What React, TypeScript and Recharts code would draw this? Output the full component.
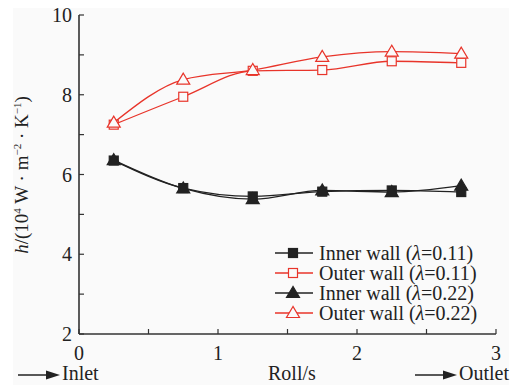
import { LineChart, Line, XAxis, YAxis, Legend } from 'recharts'

// h along the roll, inner vs outer wall for two λ values
const rollTimes = [0.25, 0.75, 1.25, 1.75, 2.25, 2.75]
const innerWall011 = [6.35, 5.66, 5.45, 5.57, 5.6, 5.56]
const outerWall011 = [7.25, 7.95, 8.6, 8.62, 8.84, 8.8]
const innerWall022 = [6.36, 5.65, 5.38, 5.6, 5.56, 5.72]
const outerWall022 = [7.3, 8.38, 8.62, 8.95, 9.08, 9.03]

const xTicks = [0, 0.5, 1, 1.5, 2, 2.5, 3]
const yTicksLeft = [2, 3, 4, 5, 6, 7, 8, 9, 10]
const yTicksRight = [2, 2.5, 3, 3.5, 4, 4.5, 5, 5.5, 6, 6.5, 7, 7.5, 8, 8.5, 9, 9.5, 10]

const RED = "#e8342a"
const BLACK = "#222"
const AXIS = "#333"
const FONT = "'Liberation Serif', 'DejaVu Serif', serif"

type Marker = "square" | "triangle"

const series = [
  { key: "in011", name: "Inner wall", lambda: "0.11", values: innerWall011, color: BLACK, marker: "square" as Marker, filled: true },
  { key: "out011", name: "Outer wall", lambda: "0.11", values: outerWall011, color: RED, marker: "square" as Marker, filled: false },
  { key: "in022", name: "Inner wall", lambda: "0.22", values: innerWall022, color: BLACK, marker: "triangle" as Marker, filled: true },
  { key: "out022", name: "Outer wall", lambda: "0.22", values: outerWall022, color: RED, marker: "triangle" as Marker, filled: false },
]

const data = rollTimes.map((x, i) => {
  const row: Record<string, number> = { x }
  series.forEach(s => { row[s.key] = s.values[i] })
  return row
})

function MarkerShape({ cx, cy, marker, color, filled }: { cx: number; cy: number; marker: Marker; color: string; filled: boolean }) {
  const fill = filled ? color : "#fafafa"
  if (marker === "square") {
    return <rect x={cx - 4.5} y={cy - 4.5} width={9} height={9} fill={fill} stroke={color} strokeWidth={1.2} />
  }
  return (
    <polygon
      points={`${cx},${cy - 6.5} ${cx - 6.5},${cy + 4.5} ${cx + 6.5},${cy + 4.5}`}
      fill={fill}
      stroke={color}
      strokeWidth={1.2}
    />
  )
}

function makeDot(s: typeof series[number]) {
  return (props: any) => {
    const { cx, cy, index } = props
    if (cx == null || cy == null) return <g key={`${s.key}-${index}`} />
    return (
      <g key={`${s.key}-${index}`}>
        <MarkerShape cx={cx} cy={cy} marker={s.marker} color={s.color} filled={s.filled} />
      </g>
    )
  }
}

function LegendBox() {
  return (
    <div style={{ fontFamily: FONT, fontSize: 20, color: "#222" }}>
      {series.map(s => (
        <div key={s.key} style={{ display: "flex", alignItems: "center", height: 20, lineHeight: "20px", whiteSpace: "nowrap" }}>
          <svg width={42} height={20} style={{ marginRight: 4 }}>
            <line x1={2} y1={10} x2={40} y2={10} stroke={s.color} strokeWidth={1.3} />
            <MarkerShape cx={20} cy={10} marker={s.marker} color={s.color} filled={s.filled} />
          </svg>
          <span>
            {s.name} (<i>λ</i>={s.lambda})
          </span>
        </div>
      ))}
    </div>
  )
}

function Arrow() {
  return (
    <svg width={42} height={12} style={{ verticalAlign: "middle", marginRight: 2 }}>
      <line x1={0} y1={6} x2={30} y2={6} stroke="#222" strokeWidth={1.5} />
      <polygon points="28,1.5 42,6 28,10.5" fill="#222" />
    </svg>
  )
}

export default function App() {
  const tickStyle = { fill: "#222", fontSize: 20, fontFamily: FONT }
  const caption = { position: "absolute" as const, top: 362, fontFamily: FONT, fontSize: 20, color: "#222", whiteSpace: "nowrap" as const }
  return (
    <div style={{ position: "absolute", left: 0, top: 0, width: 513, height: 385, background: "#fff", overflow: "hidden" }}>
      <div style={{ position: "absolute", left: 13, top: 8, width: 496, height: 377, background: "#fafafa" }} />
      <div style={{ position: "absolute", left: 0, top: 0 }}>
        <LineChart width={513} height={385} data={data} margin={{ top: 15, right: 17, bottom: 21, left: 19 }}>
          <XAxis
            xAxisId="b"
            type="number"
            dataKey="x"
            domain={[0, 3]}
            ticks={xTicks}
            interval={0}
            tickFormatter={(v: number) => (Number.isInteger(v) ? String(v) : "")}
            tickSize={-5}
            tickMargin={17}
            height={30}
            axisLine={{ stroke: AXIS, strokeWidth: 1.6 }}
            tickLine={{ stroke: AXIS, strokeWidth: 1.2 }}
            tick={tickStyle}
          />
          <XAxis
            xAxisId="t"
            orientation="top"
            type="number"
            dataKey="x"
            domain={[0, 3]}
            ticks={xTicks}
            interval={0}
            tickFormatter={() => ""}
            tickSize={-5}
            height={0}
            axisLine={{ stroke: AXIS, strokeWidth: 1.6 }}
            tickLine={{ stroke: AXIS, strokeWidth: 1.2 }}
            tick={tickStyle}
          />
          <YAxis
            yAxisId="l"
            type="number"
            domain={[2, 10]}
            ticks={yTicksLeft}
            interval={0}
            tickFormatter={(v: number) => (v % 2 === 0 ? String(v) : "")}
            tickSize={-5}
            tickMargin={12}
            width={60}
            axisLine={{ stroke: AXIS, strokeWidth: 1.6 }}
            tickLine={{ stroke: AXIS, strokeWidth: 1.2 }}
            tick={tickStyle}
          />
          <YAxis
            yAxisId="r"
            orientation="right"
            type="number"
            domain={[2, 10]}
            ticks={yTicksRight}
            interval={0}
            tickFormatter={() => ""}
            tickSize={-5}
            width={0}
            axisLine={{ stroke: AXIS, strokeWidth: 1.6 }}
            tickLine={{ stroke: AXIS, strokeWidth: 1.2 }}
            tick={tickStyle}
          />
          <Legend
            layout="horizontal"
            verticalAlign="middle"
            align="center"
            wrapperStyle={{ left: 273, top: 243, width: 235 }}
            content={() => <LegendBox />}
          />
          {series.map(s => (
            <Line
              key={s.key}
              xAxisId="b"
              yAxisId="l"
              type="monotone"
              dataKey={s.key}
              name={s.name}
              stroke={s.color}
              strokeWidth={1.3}
              dot={makeDot(s)}
              activeDot={false}
              isAnimationActive={false}
            />
          ))}
        </LineChart>
      </div>

      {/* y axis title */}
      <div
        style={{
          position: "absolute",
          left: 22,
          top: 175,
          transform: "translate(-50%, -50%) rotate(-90deg)",
          fontFamily: FONT,
          fontSize: 19,
          color: "#222",
          whiteSpace: "nowrap",
        }}
      >
        <i>h</i>/(10<sup style={{ fontSize: 11 }}>4</sup> W · m<sup style={{ fontSize: 11 }}>−2</sup> · K<sup style={{ fontSize: 11 }}>−1</sup>)
      </div>

      {/* under-axis captions */}
      <div style={{ ...caption, left: 18 }}>
        <Arrow />Inlet
      </div>
      <div style={{ ...caption, left: 268 }}>Roll/s</div>
      <div style={{ ...caption, left: 415 }}>
        <Arrow />Outlet
      </div>
    </div>
  )
}
